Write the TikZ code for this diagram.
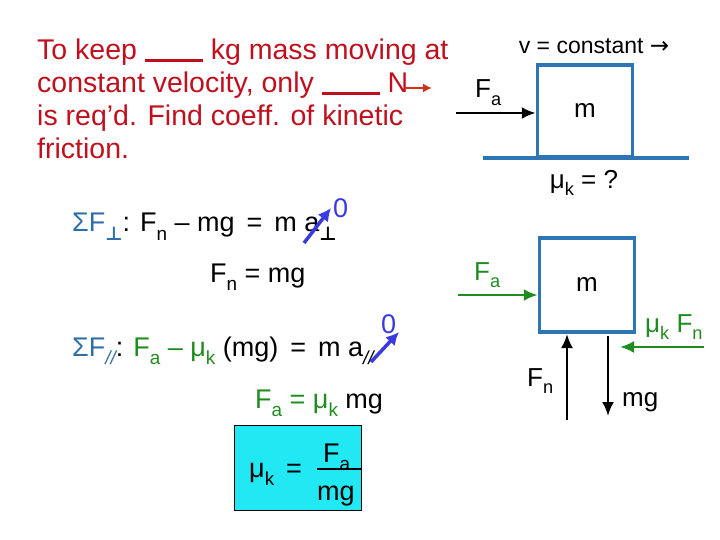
\documentclass[tikz,border=0pt]{standalone}
\usepackage{fontspec}
\usepackage{graphicx}
\usetikzlibrary{arrows.meta}
\setmainfont{Liberation Sans}
\newfontfamily\dejavu{DejaVu Sans}
\definecolor{txtred}{HTML}{C0101E}
\definecolor{boxblue}{HTML}{2E75B6}
\definecolor{sumblue}{HTML}{2F6FA8}
\definecolor{grn}{HTML}{1E8C1E}
\definecolor{arrblue}{HTML}{3A3AE0}
\definecolor{cyanbox}{HTML}{22E8F4}
\newcommand{\lo}[1]{\raisebox{-0.3em}{\scalebox{0.7}{#1}}}
\begin{document}
\begin{tikzpicture}[x=1pt,y=-1pt,
  every node/.style={inner sep=0pt},
  tx/.style={anchor=base west},
  eq/.style={anchor=base west,font=\fontsize{27}{30}\selectfont},
  dg/.style={font=\fontsize{26}{28}\selectfont},
  blk/.style={draw=boxblue,line width=3.5pt},
  force/.style={line width=2.5pt,-{Latex[length=14pt,width=12pt]}},
  zero/.style={line width=3.5pt,arrblue,-{Latex[length=13pt,width=13pt]}}]
\useasboundingbox (0,0) rectangle (720,540);
% problem text
\node[align=left,text=txtred,font=\fontsize{28.5}{33}\selectfont,anchor=north west] (prob) at (37,39)
 {To keep \rule[-2pt]{58pt}{2.5pt} kg mass moving at\\constant velocity, only \rule[-2pt]{58pt}{2.5pt} N\\is req’d. Find coeff. of kinetic\\friction.};
\coordinate (r1) at (405,88); \coordinate (r2) at (432,88);
\draw[txtred!70!orange,line width=2.5pt,-{Latex[length=9pt,width=9pt]}] (r1) -- (r2);
% equations
\node[eq] (e1) at (72,232)
 {\textcolor{sumblue}{ΣF\lo{\dejavu\bfseries ⊥}}: F\lo{n} – mg \,=\, m a\lo{\dejavu\bfseries ⊥}};
\node[eq,text=arrblue] (z1) at (333,218) {0};
\coordinate (a1s) at (304,243); \coordinate (a1e) at (331,208);
\draw[zero] (a1s) -- (a1e);
\node[eq] (e2) at (210,282) {F\lo{n} = mg};
\node[eq] (e3) at (72,356)
 {\textcolor{sumblue}{ΣF\lo{\itshape //}}: \textcolor{grn}{F\lo{a} – μ\lo{k}} (mg) \,=\, m a\lo{\itshape //}};
\node[eq,text=arrblue] (z2) at (381,333) {0};
\coordinate (a2s) at (371,362); \coordinate (a2e) at (399,332);
\draw[zero] (a2s) -- (a2e);
\node[eq] (e4) at (255,408) {\textcolor{grn}{F\lo{a} = μ\lo{k}} mg};
% result box
\draw[fill=cyanbox,line width=1pt] (234,425) rectangle (361,510);
\node[eq] (mu) at (249,477) {μ\lo{k} \,=};
\node[eq] (fa) at (323,462) {F\lo{a}};
\draw[line width=2.5pt] (317,469) -- (362,469);
\node[eq] (mg) at (317,500) {mg};
% top diagram
\node[font=\fontsize{23}{26}\selectfont] (v) at (594,46) {v = constant {\dejavu →}};
\node[blk,minimum width=95pt,minimum height=92pt,dg] (b1) at (585,111) {m};
\coordinate (g1) at (483,158); \coordinate (g2) at (689,158);
\draw[boxblue,line width=3.5pt] (g1) -- (g2);
\node[tx,dg] (fa1) at (475,98) {F\lo{a}};
\coordinate (fa1s) at (456,113);
\draw[force] (fa1s) -- (b1.west|-fa1s);
\node[dg] (muq) at (584,183) {μ\lo{k} = ?};
% FBD
\node[blk,minimum width=95pt,minimum height=94pt,dg] (b2) at (587,285) {m};
\node[tx,dg,text=grn] (fa2) at (474,280) {F\lo{a}};
\coordinate (fa2s) at (458,295);
\draw[force,grn] (fa2s) -- (b2.west|-fa2s);
\node[tx,dg,text=grn] (muf) at (645,332) {μ\lo{k} F\lo{n}};
\coordinate (f1) at (704,347); \coordinate (f2) at (620,347);
\draw[force,grn] (f1) -- (f2);
\coordinate (n1) at (567,420); \coordinate (n2) at (567,334);
\draw[force] (n1) -- (n2);
\node[tx,dg] (fnl) at (527,386) {F\lo{n}};
\coordinate (m1) at (608,336); \coordinate (m2) at (608,416);
\draw[force] (m1) -- (m2);
\node[tx,dg] (mgl) at (622,406) {mg};
\end{tikzpicture}
\end{document}
